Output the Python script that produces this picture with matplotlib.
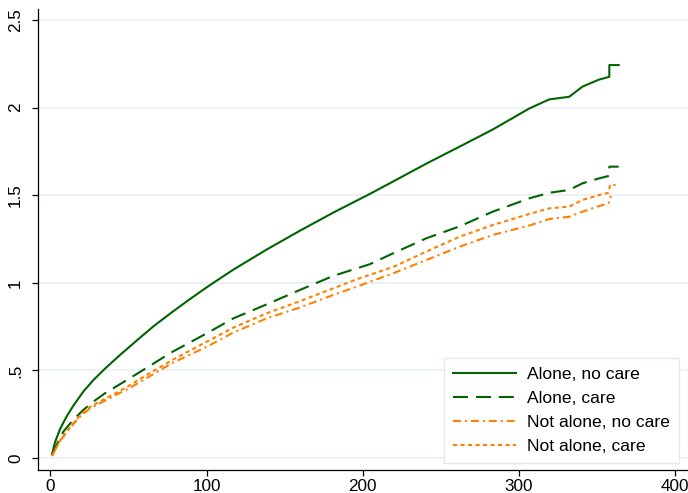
import numpy as np
import matplotlib
matplotlib.use('Agg')
import matplotlib.pyplot as plt

plt.rcParams['font.family'] = ['Liberation Sans', 'DejaVu Sans']

# valores (tempo x risco acumulado)
x_alone_nocare = [1, 2.9, 6.1, 10.4, 14.6, 21.1, 27.5, 34.9, 44.8, 56.2, 66, 77.5, 89, 101, 117.1, 138.5,
                  159.7, 181, 204.5, 219.4, 240.7, 262, 283.3, 306.7, 319.5, 332.3, 340.8, 351.4, 358, 358, 364]
y_alone_nocare = [0.02, 0.09, 0.165, 0.238, 0.298, 0.38, 0.445, 0.51, 0.59, 0.678, 0.752, 0.83, 0.905, 0.98,
                  1.075, 1.19, 1.297, 1.4, 1.507, 1.578, 1.68, 1.777, 1.875, 1.995, 2.047, 2.062, 2.12, 2.16,
                  2.176, 2.243, 2.243]

x_alone_care = [1, 2.9, 8.2, 14.6, 21.1, 27.5, 35, 45.6, 56.2, 77.5, 101, 117.1, 138.5, 159.7, 181, 204.5,
                219.4, 240.7, 262, 283.3, 306.7, 319.5, 332.3, 340.8, 351.4, 358, 358, 364]
y_alone_care = [0.02, 0.057, 0.15, 0.218, 0.275, 0.322, 0.37, 0.427, 0.485, 0.603, 0.716, 0.797, 0.877,
                0.959, 1.039, 1.106, 1.168, 1.254, 1.322, 1.406, 1.482, 1.514, 1.53, 1.568, 1.596, 1.611,
                1.663, 1.663]

x_notalone_nocare = [1, 6.1, 12.5, 18.9, 25.3, 33.8, 42.4, 49.8, 56.2, 77.5, 101, 117.1, 138.5, 159.7, 181,
                     198, 219.4, 240.7, 262, 283.3, 306.7, 319.5, 332.3, 340.8, 351.4, 357.5, 359]
y_notalone_nocare = [0.012, 0.098, 0.172, 0.236, 0.283, 0.322, 0.362, 0.395, 0.428, 0.54, 0.639, 0.716, 0.797,
                     0.859, 0.93, 0.984, 1.054, 1.13, 1.206, 1.273, 1.327, 1.364, 1.377, 1.406, 1.438, 1.454,
                     1.497]

x_notalone_care = [1, 6.1, 12.5, 18.9, 25.3, 33.8, 42.4, 49.8, 56.2, 77.5, 101, 117.1, 138.5, 159.7, 181,
                   198, 219.4, 240.7, 262, 283.3, 306.7, 319.5, 332.3, 340.8, 351.4, 357.5, 358.5, 362]
y_notalone_care = [0.012, 0.1, 0.176, 0.243, 0.292, 0.333, 0.373, 0.41, 0.445, 0.557, 0.668, 0.744, 0.826,
                   0.895, 0.968, 1.026, 1.09, 1.178, 1.263, 1.33, 1.393, 1.425, 1.435, 1.473, 1.501, 1.514,
                   1.558, 1.558]

legendas = ['Alone, no care', 'Alone, care', 'Not alone, no care', 'Not alone, care']

verde = '#006400'
laranja = '#ff8000'

fig = plt.figure(figsize=(6.88, 4.93), dpi=100)
ax = fig.add_axes([38 / 688, 23 / 493, 650 / 688, 461 / 493])

ax.plot(x_alone_nocare, y_alone_nocare, color=verde, lw=1.5, label=legendas[0])
ax.plot(x_alone_care, y_alone_care, color=verde, lw=1.5, linestyle=(0, (7.2, 3.8)), label=legendas[1])
ax.plot(x_notalone_nocare, y_notalone_nocare, color=laranja, lw=1.5,
        linestyle=(0, (3.8, 1.9, 1.0, 1.9)), label=legendas[2])
ax.plot(x_notalone_care, y_notalone_care, color=laranja, lw=1.5, linestyle=(0, (2.0, 1.6)), label=legendas[3])

ax.set_xlim(-8.0, 408.4)
ax.set_ylim(-0.0685, 2.563)
ax.set_xticks([0, 100, 200, 300, 400])
ax.set_yticks([0, 0.5, 1, 1.5, 2, 2.5])
ax.set_yticklabels(['0', '.5', '1', '1.5', '2', '2.5'])

ax.grid(axis='y', color='#eaf2f3', lw=1.5)
ax.set_axisbelow(True)
for lado in ['top', 'right']:
    ax.spines[lado].set_visible(False)
for lado in ['left', 'bottom']:
    ax.spines[lado].set_linewidth(0.9)

ax.tick_params(axis='both', direction='out', length=4.3, width=0.9, labelsize=12.3)
ax.tick_params(axis='y', pad=6.5)
ax.tick_params(axis='x', pad=2)
for lab in ax.get_yticklabels():
    lab.set_rotation(90)
    lab.set_va('center')

leg = ax.legend(loc='lower right', bbox_to_anchor=(0.986, 0.0152), borderaxespad=0,
                fontsize=12.6, handlelength=3.6, handletextpad=0.64, labelspacing=0.49,
                borderpad=0.52, fancybox=False, framealpha=1, edgecolor='#e3eaea')
leg.get_frame().set_linewidth(1.0)

fig.savefig('out.png', dpi=100)
